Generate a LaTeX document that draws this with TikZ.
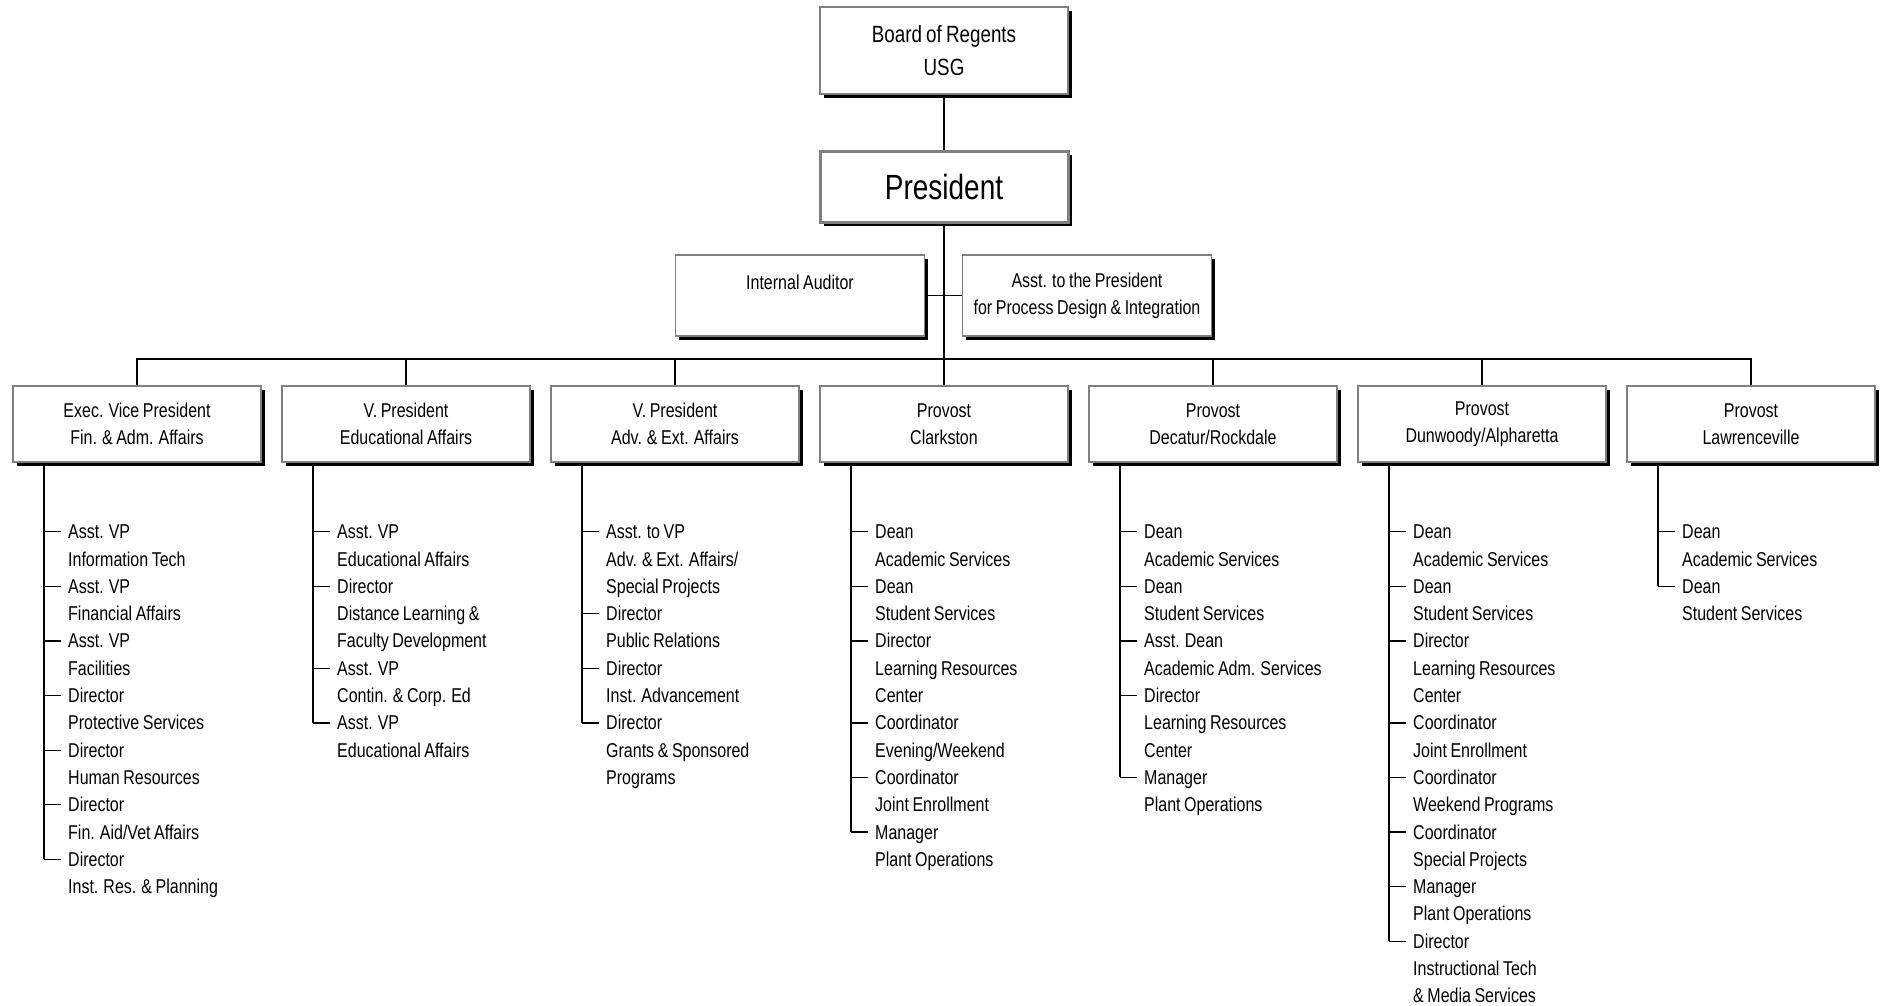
\documentclass[tikz,border=0pt]{standalone}
\usepackage{fontspec}
\setmainfont{Liberation Sans}[FakeStretch=0.8, WordSpace=0.8]
\usetikzlibrary{calc}
\usetikzlibrary{shadows}

\tikzset{
  orgbox/.style={draw=gray, line width=1.5pt, fill=white, align=center,
    minimum width=248pt, minimum height=76pt, inner sep=2pt,
    font=\fontsize{20}{27.3}\selectfont,
    drop shadow={shadow xshift=3.5pt, shadow yshift=-3.5pt, fill=black, opacity=1}},
  item/.style={anchor=base west, inner sep=0pt, font=\fontsize{20}{27.3}\selectfont},
  link/.style={line width=1.3pt}
}

% list of staff under box b#1, entries are flag/text (flag 1 = gets a tick)
\newcommand\stafflist[2]{%
  \foreach \f/\t [count=\i from 0] in {#2} {
    \node[item] (l#1-\i) at ($(b#1.south)+(-69,{76+27.3*\i})$) {\t};
    \coordinate (t#1-\i) at ($(b#1.south)+(-93,{69+27.3*\i})$);
    \ifnum\f=1
      \coordinate (s#1) at (t#1-\i);
      \draw[link, shorten >=7pt] (t#1-\i) -- (t#1-\i -| l#1-\i.west);
    \fi
  }
  \draw[link] (b#1.south -| s#1) -- (s#1);
}

\begin{document}
\begin{tikzpicture}[x=1pt, y=-1pt]
  \useasboundingbox (0,0) rectangle (1881,1005);

  % Top of the chart
  \node[orgbox, minimum height=87pt, font=\fontsize{23.5}{33}\selectfont] (bor) at (944,50.5) {Board of Regents\\USG};
  \node[orgbox, minimum height=71pt, line width=3pt, font=\fontsize{35}{40}\selectfont] (pres) at (944,186.5) {President};
  \node[orgbox, minimum width=249pt, minimum height=81pt] (aud) at (800,295.5) {Internal Auditor\\\phantom{X}};
  \node[orgbox, minimum width=249pt, minimum height=81pt] (asst) at (1087,295.5) {Asst. to the President\\for Process Design \& Integration};
  \coordinate (bus) at (944,359);

  % Second level
  \foreach \k/\txt in {1/{Exec. Vice President\\Fin. \& Adm. Affairs},
                       2/{V. President\\Educational Affairs},
                       3/{V. President\\Adv. \& Ext. Affairs},
                       4/{Provost\\Clarkston},
                       5/{Provost\\Decatur/Rockdale},
                       6/{Provost\\Dunwoody/Alpharetta},
                       7/{Provost\\Lawrenceville}} {
    \node[orgbox] (b\k) at ({944+269*(\k-4)}, 424) {\txt};
  }

  % Connectors
  \draw[link] (bor) -- (pres);
  \draw[link] (pres) -- (bus);
  \draw[link] (aud) -- (asst);
  \draw[link] (b1) |- (bus) -| (b7);
  \foreach \k in {2,...,6} {
    \draw[link] (b\k) -- (b\k |- bus);
  }

  % Staff lists
  \stafflist{1}{1/Asst. VP, 0/Information Tech, 1/Asst. VP, 0/Financial Affairs,
    1/Asst. VP, 0/Facilities, 1/Director, 0/Protective Services,
    1/Director, 0/Human Resources, 1/Director, 0/{Fin. Aid/Vet Affairs},
    1/Director, 0/Inst. Res. \& Planning}
  \stafflist{2}{1/Asst. VP, 0/Educational Affairs, 1/Director, 0/Distance Learning \&,
    0/Faculty Development, 1/Asst. VP, 0/Contin. \& Corp. Ed,
    1/Asst. VP, 0/Educational Affairs}
  \stafflist{3}{1/Asst. to VP, 0/{Adv. \& Ext. Affairs/}, 0/Special Projects,
    1/Director, 0/Public Relations, 1/Director, 0/Inst. Advancement,
    1/Director, 0/Grants \& Sponsored, 0/Programs}
  \stafflist{4}{1/Dean, 0/Academic Services, 1/Dean, 0/Student Services,
    1/Director, 0/Learning Resources, 0/Center, 1/Coordinator, 0/{Evening/Weekend},
    1/Coordinator, 0/Joint Enrollment, 1/Manager, 0/Plant Operations}
  \stafflist{5}{1/Dean, 0/Academic Services, 1/Dean, 0/Student Services,
    1/Asst. Dean, 0/Academic Adm. Services, 1/Director, 0/Learning Resources,
    0/Center, 1/Manager, 0/Plant Operations}
  \stafflist{6}{1/Dean, 0/Academic Services, 1/Dean, 0/Student Services,
    1/Director, 0/Learning Resources, 0/Center, 1/Coordinator, 0/Joint Enrollment,
    1/Coordinator, 0/Weekend Programs, 1/Coordinator, 0/Special Projects,
    1/Manager, 0/Plant Operations, 1/Director, 0/Instructional Tech,
    0/\& Media Services}
  \stafflist{7}{1/Dean, 0/Academic Services, 1/Dean, 0/Student Services}
\end{tikzpicture}
\end{document}
